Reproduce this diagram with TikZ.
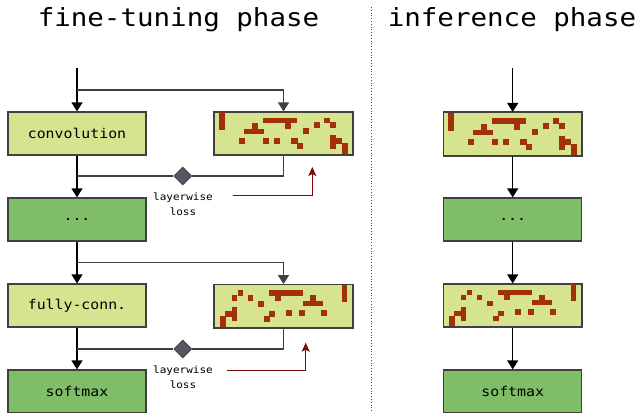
\documentclass[tikz,border=0pt]{standalone}
\usepackage{fontspec}
\usetikzlibrary{arrows.meta,shapes.geometric}
\newfontfamily\stretchmono[FakeStretch=1.1]{DejaVu Sans Mono}
\definecolor{lightfill}{HTML}{D7E48F}
\definecolor{greenfill}{HTML}{80BD69}
\definecolor{cellred}{HTML}{A3300C}
\definecolor{lossred}{HTML}{7A0A0A}
\definecolor{diamondfill}{HTML}{5C5360}

% red cells of the two weight masks, relative to the box corner
\newcommand{\maskone}{%
  \foreach \xa/\ya/\xb/\yb in {5.3/0.7/11.3/18.7, 49.3/6.3/83/12, 37.6/12/43.6/17.7,
      71.3/12/77.3/17.7, 30.3/17.7/49.6/22.7, 89.3/17/95.3/22.7, 100.3/11/106.3/16.7,
      110.3/6.3/116.3/12, 116.3/11/122.3/16.7, 25.3/27/31.3/33, 48.6/27/54.6/33,
      60.3/27/66.3/33, 77.3/27/83.6/33, 83.3/31.7/89.3/37.7, 116.3/23.7/122.3/38,
      122.3/27/128/33, 127.6/31.7/133.6/43}
    \fill[cellred] (\xa,\ya) rectangle (\xb,\yb);}
\newcommand{\masktwo}{%
  \foreach \xa/\ya/\xb/\yb in {23.6/6.3/29.3/12, 17.6/11.3/23.3/17, 33.6/11.3/39.3/17,
      55.3/6.3/89.3/12, 61.3/11.3/67.3/17, 44.3/17.3/50.3/23, 96.3/11.3/102/17,
      89.3/16.6/109.3/22, 127.6/0.6/133.3/18, 17.6/23.3/23.3/37.3, 11.3/27.3/17.6/33,
      6.3/32.3/12/42.6, 55.3/27.3/61.3/33, 50.3/32.3/56/38, 72.3/26/78/32,
      85.3/26/91.3/32, 107/26/113/32}
    \fill[cellred] (\xa,\ya) rectangle (\xb,\yb);}

\begin{document}
\begin{tikzpicture}[x=1pt,y=-1pt,
    layerbox/.style={draw=black!75,line width=1.2pt,minimum width=138pt,minimum height=43pt,
      inner sep=0pt,font=\stretchmono\fontsize{13.5}{15}\selectfont},
    lightbox/.style={layerbox,fill=lightfill},
    greenbox/.style={layerbox,fill=greenfill},
    flow/.style={line width=1.2pt,-{Triangle[width=11pt,length=9pt]}},
    branch/.style={draw=black!75,line width=1.2pt},
    lossdiamond/.style={diamond,draw=black!75,fill=diamondfill,line width=0.8pt,
      minimum width=18pt,minimum height=18pt,inner sep=0pt},
    losslabel/.style={align=center,font=\stretchmono\fontsize{10}{15}\selectfont},
    lossarrow/.style={draw=lossred,line width=1.2pt,-{Stealth[width=8pt,length=9pt,inset=2pt]}},
    title/.style={anchor=base,font=\stretchmono\fontsize{25}{28}\selectfont}]
  \useasboundingbox (0,0) rectangle (641,413);

  % titles and separator
  \node[title] (ftitle) at (178.5,26.7) {fine-tuning phase};
  \node[title] (ititle) at (512,26.7) {inference phase};
  \draw[black!70,line width=0.8pt,dotted] (371.7,7) -- (371.7,413);

  % fine-tuning phase
  \node[lightbox] (conv) at (77,133.5) {convolution};
  \node[greenbox] (dots) at (77,219.5) {...};
  \node[lightbox] (fc) at (77,305.5) {fully-conn.};
  \node[greenbox] (soft) at (77,391.5) {softmax};
  \node[lightbox] (gridA) at (283.5,133.5) {};
  \node[lightbox] (gridB) at (283.5,306.2) {};
  \begin{scope}[shift={(gridA.north west)}] \maskone \end{scope}
  \begin{scope}[shift={(gridB.north west)}] \masktwo \end{scope}
  \draw[black!75,line width=1.2pt] (gridA.north west) rectangle (gridA.south east);
  \draw[black!75,line width=1.2pt] (gridB.north west) rectangle (gridB.south east);

  \coordinate (start) at (77,68);
  \coordinate (splitA) at (77,90);
  \coordinate (splitB) at (77,176);
  \coordinate (splitC) at (77,262.5);
  \coordinate (splitD) at (77,349);
  \node[lossdiamond] (lossA) at (182.7,176) {};
  \node[lossdiamond] (lossB) at (182.7,349) {};
  \node[losslabel] (lossAtxt) at (183,204) {layerwise\\loss};
  \node[losslabel] (lossBtxt) at (183,377.5) {layerwise\\loss};

  \draw[flow] (start) -- (conv);
  \draw[branch,-{Triangle[width=11pt,length=9pt]}] (splitA) -| (gridA);
  \draw[flow] (conv) -- (dots);
  \draw[branch] (splitB) -- (lossA);
  \draw[branch] (lossA) -| (gridA);
  \draw[flow] (dots) -- (fc);
  \draw[branch,-{Triangle[width=11pt,length=9pt]}] (splitC) -| (gridB);
  \draw[flow] (fc) -- (soft);
  \draw[branch] (splitD) -- (lossB);
  \draw[branch] (lossB) -| (gridB);

  \coordinate (lossAfrom) at (232.7,195.7);
  \coordinate (lossAto) at (312.3,167);
  \coordinate (lossBfrom) at (226.7,370.7);
  \coordinate (lossBto) at (305.7,342.7);
  \draw[lossarrow] (lossAfrom) -| (lossAto);
  \draw[lossarrow] (lossBfrom) -| (lossBto);

  % inference phase
  \node[lightbox] (igridA) at (512.7,134) {};
  \node[greenbox] (idots) at (512.7,219.5) {...};
  \node[lightbox] (igridB) at (512.7,305.5) {};
  \node[greenbox] (isoft) at (512.7,391.5) {softmax};
  \begin{scope}[shift={(igridA.north west)}] \maskone \end{scope}
  \begin{scope}[shift={(igridB.north west)}] \masktwo \end{scope}
  \draw[black!75,line width=1.2pt] (igridA.north west) rectangle (igridA.south east);
  \draw[black!75,line width=1.2pt] (igridB.north west) rectangle (igridB.south east);

  \coordinate (istart) at (512.7,68);
  \draw[flow] (istart) -- (igridA);
  \draw[flow] (igridA) -- (idots);
  \draw[flow] (idots) -- (igridB);
  \draw[flow] (igridB) -- (isoft);
\end{tikzpicture}
\end{document}
